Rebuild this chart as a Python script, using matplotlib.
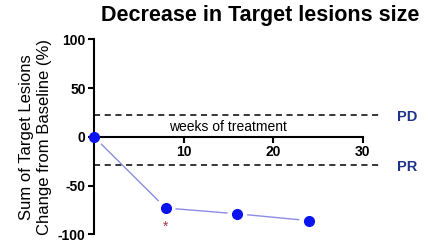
import matplotlib
matplotlib.use("Agg")
import matplotlib.pyplot as plt
import numpy as np

plt.rcParams['font.family'] = ['Liberation Sans', 'DejaVu Sans']

weeks = [0, 8, 16, 24]
change = [0, -73, -79, -86]
pd_threshold = 22
pr_threshold = -29
star_week = 8
star_value = -92
xticks = [10, 20, 30]
yticks = [100, 50, 0, -50, -100]

fig = plt.figure(figsize=(4.28, 2.43), dpi=100)
ax = fig.add_axes([0.2196, 0.0358, 0.628, 0.802])
ax.set_xlim(0, 30)
ax.set_ylim(-100, 100)

for s in ['top', 'right']:
    ax.spines[s].set_visible(False)
ax.spines['bottom'].set_position(('data', 0))
ax.spines['bottom'].set_bounds(0, 30)
ax.spines['left'].set_bounds(-100, 100)
for s in ['bottom', 'left']:
    ax.spines[s].set_linewidth(1.5)

ax.set_xticks(xticks)
ax.set_yticks(yticks)
ax.set_xticklabels([str(t) for t in xticks], fontweight='bold', fontsize=10)
ax.set_yticklabels([str(t) for t in yticks], fontweight='bold', fontsize=10)
ax.tick_params(axis='both', direction='out', length=4.5, width=1.5, pad=1.5)

# dashed threshold lines
for yv in [pd_threshold, pr_threshold]:
    ax.plot([0, 32], [yv, yv], linestyle=(0, (4, 3)), color='black', lw=1.1, clip_on=False)
ax.text(33.8, pd_threshold - 1.5, 'PD', color='#1f3388', fontweight='bold', fontsize=10.5,
        va='center', ha='left')
ax.text(33.8, pr_threshold - 1.5, 'PR', color='#1f3388', fontweight='bold', fontsize=10.5,
        va='center', ha='left')

# connecting lines with gaps near markers (display-space shortening)
trans = ax.transData
inv = trans.inverted()
gap = 10.5
pts = trans.transform(np.column_stack([weeks, change]))
for i in range(len(pts) - 1):
    p0, p1 = pts[i], pts[i + 1]
    d = p1 - p0
    L = np.hypot(*d)
    u = d / L
    a = p0 + u * gap
    b = p1 - u * gap
    da, db = inv.transform([a, b])
    ax.plot([da[0], db[0]], [da[1], db[1]], color='#8c8ce6', lw=1.0, clip_on=False)

ax.plot(weeks, change, linestyle='none', marker='o', ms=7, color='#0a14f0',
        mec='#0a14f0', clip_on=False, zorder=5)

ax.text(star_week, star_value, '*', color='#a83a3a', fontsize=10, ha='center', va='center')

ax.text(15, 2.5, 'weeks of treatment', ha='center', va='bottom', fontsize=10)

ax.set_ylabel('Sum of Target Lesions\nChange from Baseline (%)', fontsize=12,
              labelpad=4, linespacing=1.3)

fig.text(0.609, 0.935, 'Decrease in Target lesions size', ha='center', va='center',
         fontsize=15.5, fontweight='bold')

fig.savefig('out.png', dpi=100)
